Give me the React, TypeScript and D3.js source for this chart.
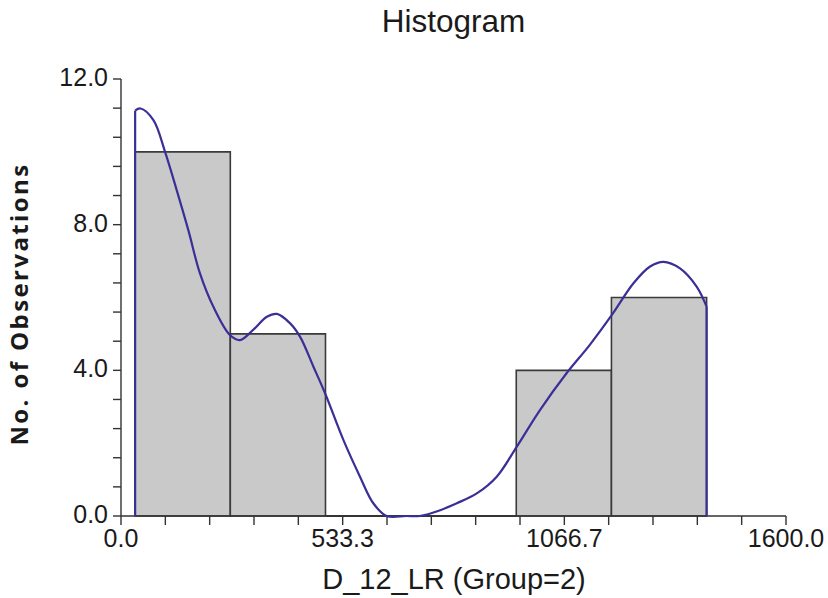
import React from "react";
import * as d3 from "d3";

// Histogram bin edges (data units) and counts
const binEdges = [34, 263, 492, 721, 951, 1180, 1409];
const binCounts = [10, 5, 0, 0, 4, 6];

// Density curve (scaled to counts)
const curveX = [34, 47, 78, 106, 134, 162, 190, 222, 262, 286, 318, 351, 375, 407, 431, 463, 491, 535, 575, 607, 639, 687, 719, 768, 808, 856, 904, 952, 1008, 1072, 1128, 1181, 1233, 1273, 1305, 1345, 1385, 1409];
const curveY = [11.13, 11.19, 10.87, 10.0, 8.95, 7.85, 6.66, 5.75, 4.97, 4.83, 5.11, 5.47, 5.55, 5.29, 4.92, 4.10, 3.37, 2.09, 1.08, 0.35, 0.0, 0.0, 0.0, 0.16, 0.35, 0.62, 1.08, 1.90, 2.91, 3.92, 4.70, 5.52, 6.39, 6.85, 6.98, 6.80, 6.30, 5.75];

const xMajorTicks = [0, 533.3, 1066.7, 1600];
const yMajorTicks = [0, 4, 8, 12];

const title = "Histogram";
const xTitle = "D_12_LR (Group=2)";
const yTitle = "No. of Observations";

export default function App() {
  const W = 828, H = 598;
  const x = d3.scaleLinear().domain([0, 1600]).range([121, 786]);
  const y = d3.scaleLinear().domain([0, 12]).range([516, 79]);

  const xMinor = d3.range(0, 16).map((i) => (i * 1600) / 15);
  const yMinor = d3.range(0, 16).map((i) => i * 0.8);

  const pts: [number, number][] = curveX.map((v, i) => [v, curveY[i]]);
  const line = d3
    .line<[number, number]>()
    .x((d) => x(d[0]))
    .y((d) => Math.min(y(d[1]), y(0)))
    .curve(d3.curveCatmullRom.alpha(0.5));

  const axisColor = "#333333";
  const curveColor = "#3a2f96";
  const first = pts[0];
  const last = pts[pts.length - 1];

  return (
    <svg
      width={W}
      height={H}
      style={{ position: "absolute", left: 0, top: 0, background: "#fff" }}
      fontFamily="'Liberation Sans', Arial, sans-serif"
    >
      <rect width={W} height={H} fill="#fff" />
      {/* bars */}
      {binCounts.map((c, i) => {
        const x0 = x(binEdges[i]);
        const x1 = x(binEdges[i + 1]);
        const y0 = y(0);
        const y1 = y(c);
        return (
          <path
            key={i}
            d={`M${x0},${y0}V${y1}H${x1}V${y0}Z`}
            fill="#c9c9c9"
            stroke="#3a3a3a"
            strokeWidth={c === 0 ? 2.2 : 1.6}
          />
        );
      })}
      {/* axes */}
      <line x1={x(0)} x2={x(0)} y1={y(0)} y2={y(12)} stroke={axisColor} strokeWidth={1.4} />
      <line x1={x(0)} x2={x(1600)} y1={y(0)} y2={y(0)} stroke={axisColor} strokeWidth={1.4} />
      {xMinor.map((t, i) => (
        <line key={"xt" + i} x1={x(t)} x2={x(t)} y1={y(0)} y2={y(0) + 9} stroke={axisColor} strokeWidth={1.4} />
      ))}
      {yMinor.map((t, i) => (
        <line key={"yt" + i} x1={x(0) - 8} x2={x(0)} y1={y(t)} y2={y(t)} stroke={axisColor} strokeWidth={1.4} />
      ))}
      {xMajorTicks.map((t, i) => (
        <text key={"xl" + i} x={x(t)} y={546.5} fontSize={25} textAnchor="middle" fill="#1a1a1a">
          {t.toFixed(1)}
        </text>
      ))}
      {yMajorTicks.map((t, i) => (
        <text key={"yl" + i} x={108} y={y(t) + 7} fontSize={25} textAnchor="end" fill="#1a1a1a">
          {t.toFixed(1)}
        </text>
      ))}
      {/* density curve */}
      <line x1={x(first[0])} x2={x(first[0])} y1={y(0)} y2={y(first[1])} stroke={curveColor} strokeWidth={2.2} />
      <line x1={x(last[0])} x2={x(last[0])} y1={y(0)} y2={y(last[1])} stroke={curveColor} strokeWidth={2.2} />
      <path d={line(pts) || ""} fill="none" stroke={curveColor} strokeWidth={2.2} />
      {/* titles */}
      <text x={453.5} y={31.5} fontSize={31.5} textAnchor="middle" fill="#1a1a1a">
        {title}
      </text>
      <text x={454} y={589} fontSize={29} textAnchor="middle" fill="#1a1a1a">
        {xTitle}
      </text>
      <text
        transform={`translate(27.5,304) rotate(-90)`}
        fontSize={24}
        fontWeight="bold"
        fontFamily="'Open Sans', 'Noto Sans', sans-serif"
        letterSpacing={2.4}
        textAnchor="middle"
        fill="#1a1a1a"
      >
        {yTitle}
      </text>
    </svg>
  );
}
